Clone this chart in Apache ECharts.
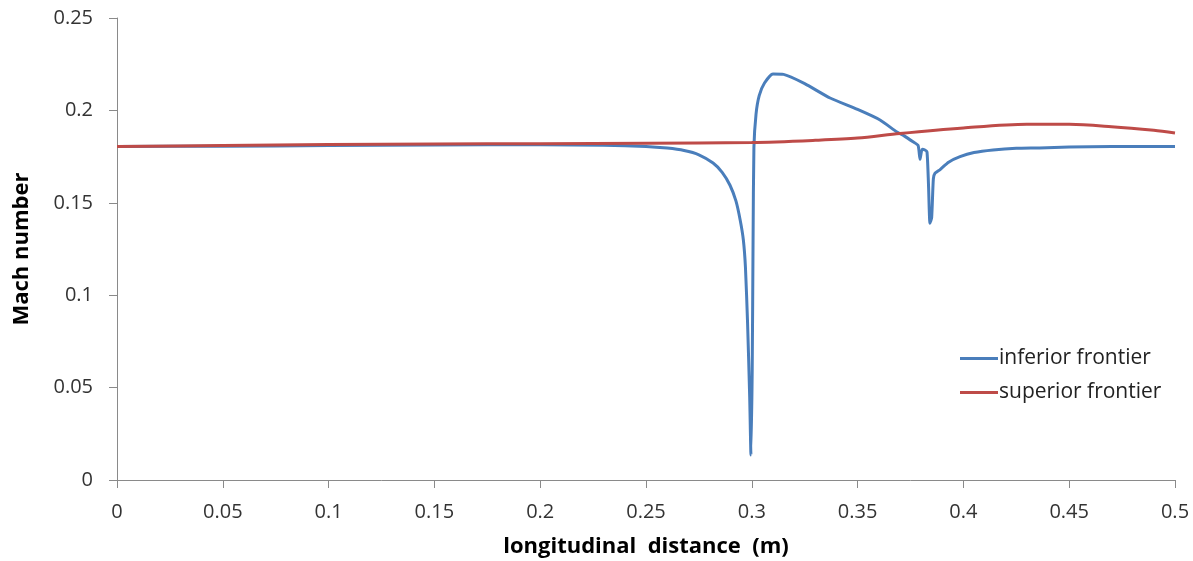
<!DOCTYPE html>
<html>
<head>
<meta charset="utf-8">
<script src="https://cdn.jsdelivr.net/npm/echarts@6/dist/echarts.min.js"></script>
<style>
  html, body { margin: 0; padding: 0; background: #fff; }
  #chart { width: 1193px; height: 561px; }
</style>
</head>
<body>
<div id="chart"></div>
<script>
// inferior frontier (blue)
const infX = [0, 0.05, 0.1, 0.15, 0.2, 0.23, 0.25, 0.26, 0.268, 0.275, 0.2817, 0.286, 0.2897, 0.2925, 0.2945, 0.296, 0.297, 0.298, 0.299, 0.2996,
  0.3002, 0.3006, 0.301, 0.302, 0.3035, 0.306, 0.31, 0.315, 0.325, 0.337, 0.35, 0.3606, 0.3686, 0.372, 0.3762, 0.3786, 0.3795, 0.3805, 0.3818, 0.3828,
  0.3835, 0.3842, 0.385, 0.3858, 0.3866, 0.389, 0.393, 0.3984, 0.405, 0.414, 0.425, 0.436, 0.45, 0.47, 0.5]
const infY = [0.1805, 0.1806, 0.181, 0.1813, 0.1814, 0.1812, 0.1805, 0.1796, 0.1783, 0.176, 0.1715, 0.1665, 0.1595, 0.151, 0.1407, 0.130, 0.115, 0.085, 0.045, 0.0135,
  0.06, 0.13, 0.180, 0.198, 0.208, 0.2148, 0.2197, 0.2195, 0.2145, 0.2067, 0.2005, 0.1948, 0.1883, 0.1862, 0.183, 0.181, 0.1735, 0.179, 0.1786, 0.1775,
  0.160, 0.139, 0.142, 0.163, 0.166, 0.168, 0.172, 0.175, 0.1772, 0.1786, 0.1795, 0.1797, 0.1802, 0.1805, 0.1805]

// superior frontier (red)
const supX = [0, 0.05, 0.1, 0.15, 0.2, 0.25, 0.3, 0.33, 0.35, 0.37, 0.4, 0.43, 0.45, 0.47, 0.49, 0.5]
const supY = [0.1805, 0.181, 0.1815, 0.1818, 0.182, 0.1822, 0.1826, 0.1838, 0.185, 0.1875, 0.1905, 0.1925, 0.1925, 0.1912, 0.1892, 0.1878]

const xTicks = [0, 0.05, 0.1, 0.15, 0.2, 0.25, 0.3, 0.35, 0.4, 0.45, 0.5]
const yTicks = [0, 0.05, 0.1, 0.15, 0.2, 0.25]

const pairs = (xs, ys) => xs.map((x, i) => [x, ys[i]])

const chart = echarts.init(document.getElementById('chart'))
const font = '"Open Sans", "Noto Sans", sans-serif'

chart.setOption({
  animation: false,
  textStyle: { fontFamily: font },
  grid: { left: 117, right: 18, top: 18, bottom: 81, containLabel: false, outerBoundsMode: 'none' },
  legend: {
    orient: 'vertical',
    left: 955,
    top: 343,
    itemWidth: 38,
    itemHeight: 3,
    itemGap: 13,
    icon: 'rect',
    textStyle: { fontSize: 21, color: '#222', fontFamily: font, padding: [0, 0, 0, -4] },
    data: ['inferior frontier', 'superior frontier']
  },
  xAxis: {
    type: 'value',
    min: 0,
    max: 0.5,
    interval: 0.05,
    name: 'longitudinal  distance  (m)',
    nameLocation: 'middle',
    nameGap: 56,
    nameTextStyle: { fontSize: 22, fontWeight: 'bold', color: '#000', fontFamily: font },
    axisLine: { lineStyle: { color: '#8a8a8a', width: 1 } },
    axisTick: { show: true, inside: false, length: 8, lineStyle: { color: '#8a8a8a' } },
    axisLabel: {
      fontSize: 20, color: '#333', margin: 22,
      formatter: v => xTicks.includes(+v.toFixed(2)) ? String(+v.toFixed(2)) : ''
    },
    splitLine: { show: false }
  },
  yAxis: {
    type: 'value',
    min: 0,
    max: 0.25,
    interval: 0.05,
    name: 'Mach number',
    nameLocation: 'middle',
    nameGap: 84,
    nameTextStyle: { fontSize: 22, fontWeight: 'bold', color: '#000', fontFamily: font },
    axisLine: { show: true, lineStyle: { color: '#8a8a8a', width: 1 } },
    axisTick: { show: true, inside: false, length: 8, lineStyle: { color: '#8a8a8a' } },
    axisLabel: {
      fontSize: 20, color: '#333', margin: 24,
      formatter: v => yTicks.includes(+v.toFixed(2)) ? String(+v.toFixed(2)) : ''
    },
    splitLine: { show: false }
  },
  series: [
    {
      name: 'inferior frontier',
      type: 'line',
      showSymbol: false,
      smooth: 0.2,
      color: '#4a7ebb',
      lineStyle: { width: 3, color: '#4a7ebb' },
      data: pairs(infX, infY),
      z: 2
    },
    {
      name: 'superior frontier',
      type: 'line',
      showSymbol: false,
      smooth: 0.3,
      color: '#be4b48',
      lineStyle: { width: 3, color: '#be4b48' },
      data: pairs(supX, supY),
      z: 3
    }
  ]
})
</script>
</body>
</html>
